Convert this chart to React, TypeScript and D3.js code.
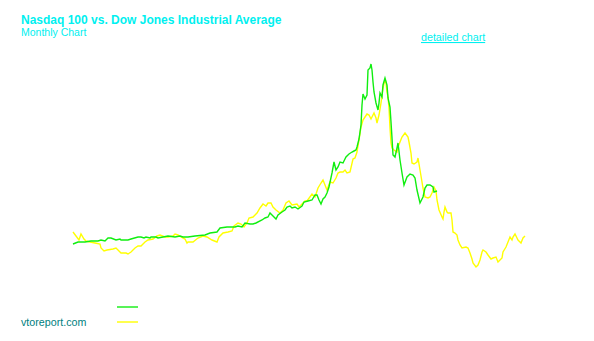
import React from "react";
import * as d3 from "d3";

// month index (from start of chart) and relative level
const dowMonths = [0,3,4,5.5,6.5,8.5,11,13.5,14,15.5,17,20,21.5,22.5,24,26.5,27.5,29,31,32.5,34,36,37.5,40,42,43.5,46,47.5,50,51,52.5,54,56,57,57.5,60,62.5,65,67,69.5,72,73,75,77.5,79.5,80.5,82.5,84,85.5,87,88,90,92,93.5,95,96.5,97.5,99,100,101.5,103.5,105,106.5,108,109.5,112,113,114.5,116,117,119.5,121,122.5,124,125,126,127,128.5,130,131.5,132.5,133.5,135,136,137,138.5,140,141,142,143,144,145,146,147,148,149,149.5,150.5,151.5,152,153,154,155,156,156.5,157,157.5,158,158.5,159,159.5,160.5,162,162.5,163.5,164.5,166,167.5,168,169,169.5,170.5,172,172.5,173.5,174.5,175,176,177.5,178.5,179.5,180.5,181.5,182,183,184.5,185,185.5,186,187,187.5,189,189.5,190,191,192,192.5,193.5,194.5,196.5,197.5,198.5,199.5,200,201.5,202.5,203.5,204.5,205,206.5,207.5,209,210,211.5,212.5,213.5,214.5,215,216.5,217.5,218.5,219.5,220,221,222,222.5,224,225,226];
const dowValues = [68,60,66,61,59,58,57,56,52,49,50,51,52,50,47,47,46,48,52,54,54,58,60,61,64,65,63,63,64,66,65,63,61,57,58,58,62,64,63,60,58,63,67,68,69,74,77,76,73,77,82,83,87,92,96,94,97,97,93,90,87,90,97,99,95,96,93,96,99,99,106,103,112,117,120,115,110,118,117,122,127,128,128,130,127,128,141,142,148,160,173,180,183,186,185,181,183,187,182,177,185,197,212,221,217,208,203,192,172,157,152,150,148,153,158,163,167,163,158,147,137,136,138,142,130,118,112,103,102,103,107,113,109,100,90,83,81,88,93,88,87,87,80,68,67,65,60,55,52,53,52,47,41,37,33,35,40,48,50,48,45,41,42,43,38,40,42,48,53,58,63,60,63,66,62,60,57,62,64];

const ndxMonths = [0,2.5,6,9,12.5,14,16,17.5,19,21.5,23.5,24,27.5,29,32.5,34,35.5,36.5,38.5,39,41.5,42.5,45,47.5,51,53.5,55,57.5,61,66,68.5,72,73.5,77,79.5,81,82.5,84.5,86,88.5,90,91.5,94.5,96,97.5,98.5,99.5,101.5,102.5,104.5,106,107,108.5,109.5,111,112.5,114.5,115.5,117.5,119.5,121,122,123,124,125,126,127,128,129.5,130.5,131.5,132.5,133.5,135,136.5,138,139.5,140.5,141.5,142,143,144,144.5,145,146,147,147.5,148.5,149,149.5,150,150.5,151.5,152.5,153,153.5,154.5,155,156,157,157.5,158.5,159,159.5,160,161,162,162.5,163.5,164.5,165.5,167,168.5,170,171,172,173.5,175,176,177,178.5,180,180.5,182];
const ndxValues = [56,58,58,59,59,60,59,62,62,60,61,60,60,61,63,63,62,63,62,63,63,62,63,64,63,64,63,63,64,65,67,68,72,73,73,73,74,73,77,76,76,77,80,82,83,87,85,81,85,88,90,93,94,92,93,91,94,98,99,100,105,105,100,96,101,103,107,113,127,138,130,133,138,137,143,146,148,149,150,153,161,175,195,206,201,205,230,232,236,230,218,208,197,190,197,207,203,215,222,215,202,193,178,162,145,143,152,157,140,127,115,123,126,125,122,110,97,103,112,115,115,113,108,109];

const title = "Nasdaq 100 vs. Dow Jones Industrial Average";
const subtitle = "Monthly Chart";
const linkText = "detailed chart";
const source = "vtoreport.com";

const GREEN = "#10ee10";
const YELLOW = "#ffff00";
const CYAN = "#00f0f0";

export default function App() {
  const x = d3.scaleLinear().domain([0, 226]).range([73, 525]);
  const y = d3.scaleLinear().domain([0, 240]).range([300, 60]);
  const line = d3
    .line<[number, number]>()
    .x((d) => x(d[0]))
    .y((d) => y(d[1]));
  const dow: [number, number][] = dowMonths.map((m, i) => [m, dowValues[i]]);
  const ndx: [number, number][] = ndxMonths.map((m, i) => [m, ndxValues[i]]);
  const font = "'Liberation Sans', Arial, sans-serif";
  return (
    <svg
      width={594}
      height={341}
      style={{ position: "absolute", left: 0, top: 0, background: "#fff" }}
      fontFamily={font}
    >
      <rect width={594} height={341} fill="#fff" />
      <text x={21} y={24} fill={CYAN} fontSize={12} fontWeight="bold">
        {title}
      </text>
      <text x={21} y={36} fill={CYAN} fontSize={10.5}>
        {subtitle}
      </text>
      <text x={421} y={41} fill={CYAN} fontSize={10.7} textDecoration="underline">
        {linkText}
      </text>
      <path d={line(dow) || ""} fill="none" stroke={YELLOW} strokeWidth={1.4} />
      <path d={line(ndx) || ""} fill="none" stroke={GREEN} strokeWidth={1.4} />
      <line x1={117} x2={138} y1={307} y2={307} stroke={GREEN} strokeWidth={1.4} />
      <line x1={117} x2={138} y1={322} y2={322} stroke={YELLOW} strokeWidth={1.4} />
      <text x={21} y={326} fill="#008080" fontSize={10.7}>
        {source}
      </text>
    </svg>
  );
}
